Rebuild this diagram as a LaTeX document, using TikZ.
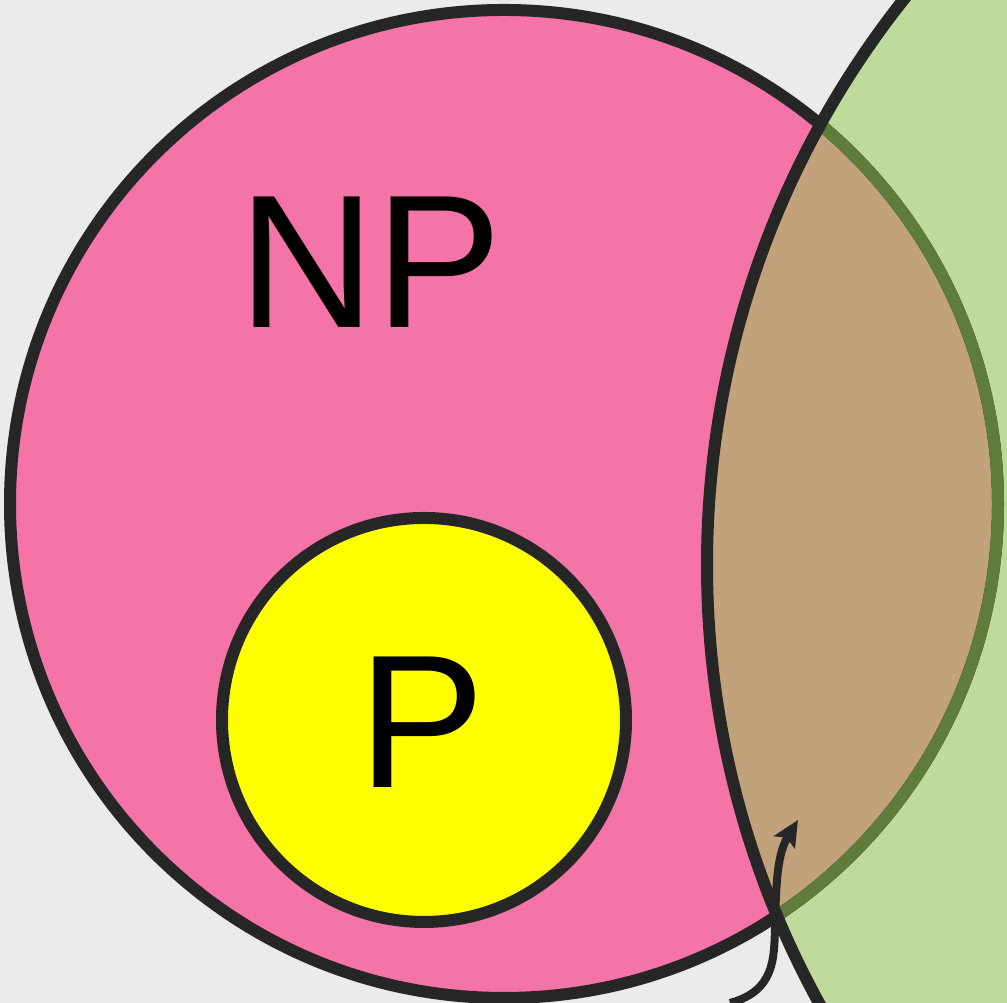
\documentclass[tikz,border=0pt]{standalone}
\usepackage{fontspec}
\setmainfont{Liberation Sans}
\usetikzlibrary{arrows.meta,positioning}
\definecolor{bgGray}{HTML}{EBEBEB}
\definecolor{npPink}{HTML}{F474A8}
\definecolor{coGreen}{HTML}{BEDB9C}
\definecolor{mixBrown}{HTML}{C2A27B}
\definecolor{rimGreen}{HTML}{5E7C3A}
\definecolor{edgeDark}{HTML}{262626}
\definecolor{pYellow}{HTML}{FFFF00}
\tikzset{
  setline/.style={line width=0.12cm, draw=edgeDark},
  setlabel/.style={font=\fontsize{54}{60}\selectfont, text=black},
  pointer/.style={-{Stealth[length=0.26cm, width=0.24cm, inset=0.05cm]}, line width=0.08cm, edgeDark}
}

\begin{document}
\begin{tikzpicture}
  \useasboundingbox (0,0) rectangle (10.07,10.03);
  \fill[bgGray] (0,0) rectangle (10.07,10.03);
  \clip (0,0) rectangle (10.07,10.03);
  % set centres
  \coordinate (npc) at (5.04,4.99);
  \coordinate (coc) at (16.18,4.38);
  \coordinate (pc) at (4.24,2.83);
  \fill[npPink] (npc) circle (4.94);
  \fill[coGreen] (coc) circle (9.11);
  \begin{scope}
    \clip (coc) circle (9.11);
    \fill[mixBrown] (npc) circle (4.94);
  \end{scope}
  \draw[setline] (npc) circle (4.94);
  \begin{scope}
    \clip (coc) circle (9.11);
    \draw[setline, draw=rimGreen] (npc) circle (4.94);
  \end{scope}
  \draw[setline] (coc) circle (9.11);
  \draw[setline, fill=pYellow] (pc) circle (2.02);
  \node[setlabel] (np) at (3.70,7.41) {NP};
  \node[setlabel] (p) at (4.22,2.81) {P};
  % pointer into the overlap
  \coordinate (tail) at (7.30,0.00);
  \coordinate (head) at (7.98,1.83);
  \draw[pointer] (tail) .. controls (7.75,0.12) and (7.74,0.45) .. (7.75,0.75) .. controls (7.76,1.25) and (7.78,1.50) .. (head);
\end{tikzpicture}
\end{document}
